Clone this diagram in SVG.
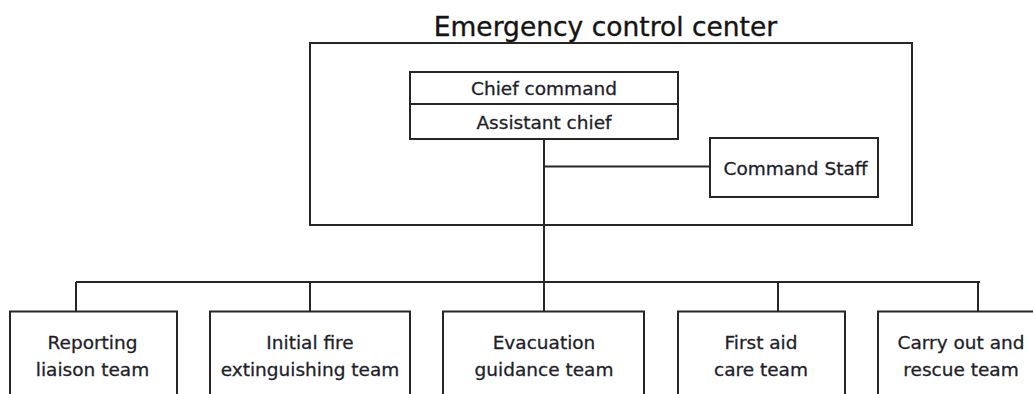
<svg xmlns="http://www.w3.org/2000/svg" width="1033" height="394" viewBox="0 0 1033 394">
<style>
.box{fill:#ffffff;stroke:#262626;stroke-width:2}
.ln{fill:none;stroke:#262626;stroke-width:2}
.t{font-family:"DejaVu Sans","Liberation Sans",sans-serif;font-size:18.5px;fill:#1e1e2a;stroke:#1e1e2a;stroke-width:0.3;text-anchor:middle}
.title{font-family:"DejaVu Sans","Liberation Sans",sans-serif;font-size:26.5px;fill:#141414;stroke:#141414;stroke-width:0.35;text-anchor:middle}
</style>
<rect width="1033" height="394" fill="#ffffff"/>
<g id="emergency-control-center">
<rect class="box" x="310" y="43" width="602" height="182"/>
<text class="title" x="605.5" y="36">Emergency control center</text>
</g>
<g id="connectors">
<path class="ln" d="M544 139 V282"/>
<path class="ln" d="M544 166.5 H710"/>
<path class="ln" d="M76 282 H980"/>
<path class="ln" d="M76 282 V311.5 M310 282 V311.5 M544 282 V311.5 M778 282 V311.5 M978 282 V311.5"/>
</g>
<g id="chief-command">
<rect class="box" x="410" y="72" width="268" height="32"/>
<text class="t" x="544" y="95">Chief command</text>
</g>
<g id="assistant-chief">
<rect class="box" x="410" y="104" width="268" height="35"/>
<text class="t" x="544" y="129">Assistant chief</text>
</g>
<g id="command-staff">
<rect class="box" x="710" y="138" width="168" height="59"/>
<text class="t" x="795.5" y="174.5">Command Staff</text>
</g>
<g id="reporting-liaison-team">
<rect class="box" x="10" y="311.5" width="167" height="100"/>
<text class="t" x="92.5" y="348.5">Reporting</text>
<text class="t" x="92.5" y="376">liaison team</text>
</g>
<g id="initial-fire-extinguishing-team">
<rect class="box" x="210" y="311.5" width="200" height="100"/>
<text class="t" x="310" y="348.5">Initial fire</text>
<text class="t" x="310" y="376">extinguishing team</text>
</g>
<g id="evacuation-guidance-team">
<rect class="box" x="443" y="311.5" width="201" height="100"/>
<text class="t" x="544" y="348.5">Evacuation</text>
<text class="t" x="544" y="376">guidance team</text>
</g>
<g id="first-aid-care-team">
<rect class="box" x="678" y="311.5" width="167" height="100"/>
<text class="t" x="761" y="348.5">First aid</text>
<text class="t" x="761" y="376">care team</text>
</g>
<g id="carry-out-and-rescue-team">
<rect class="box" x="878" y="311.5" width="167" height="100"/>
<text class="t" x="961" y="348.5">Carry out and</text>
<text class="t" x="961" y="376">rescue team</text>
</g>
</svg>
